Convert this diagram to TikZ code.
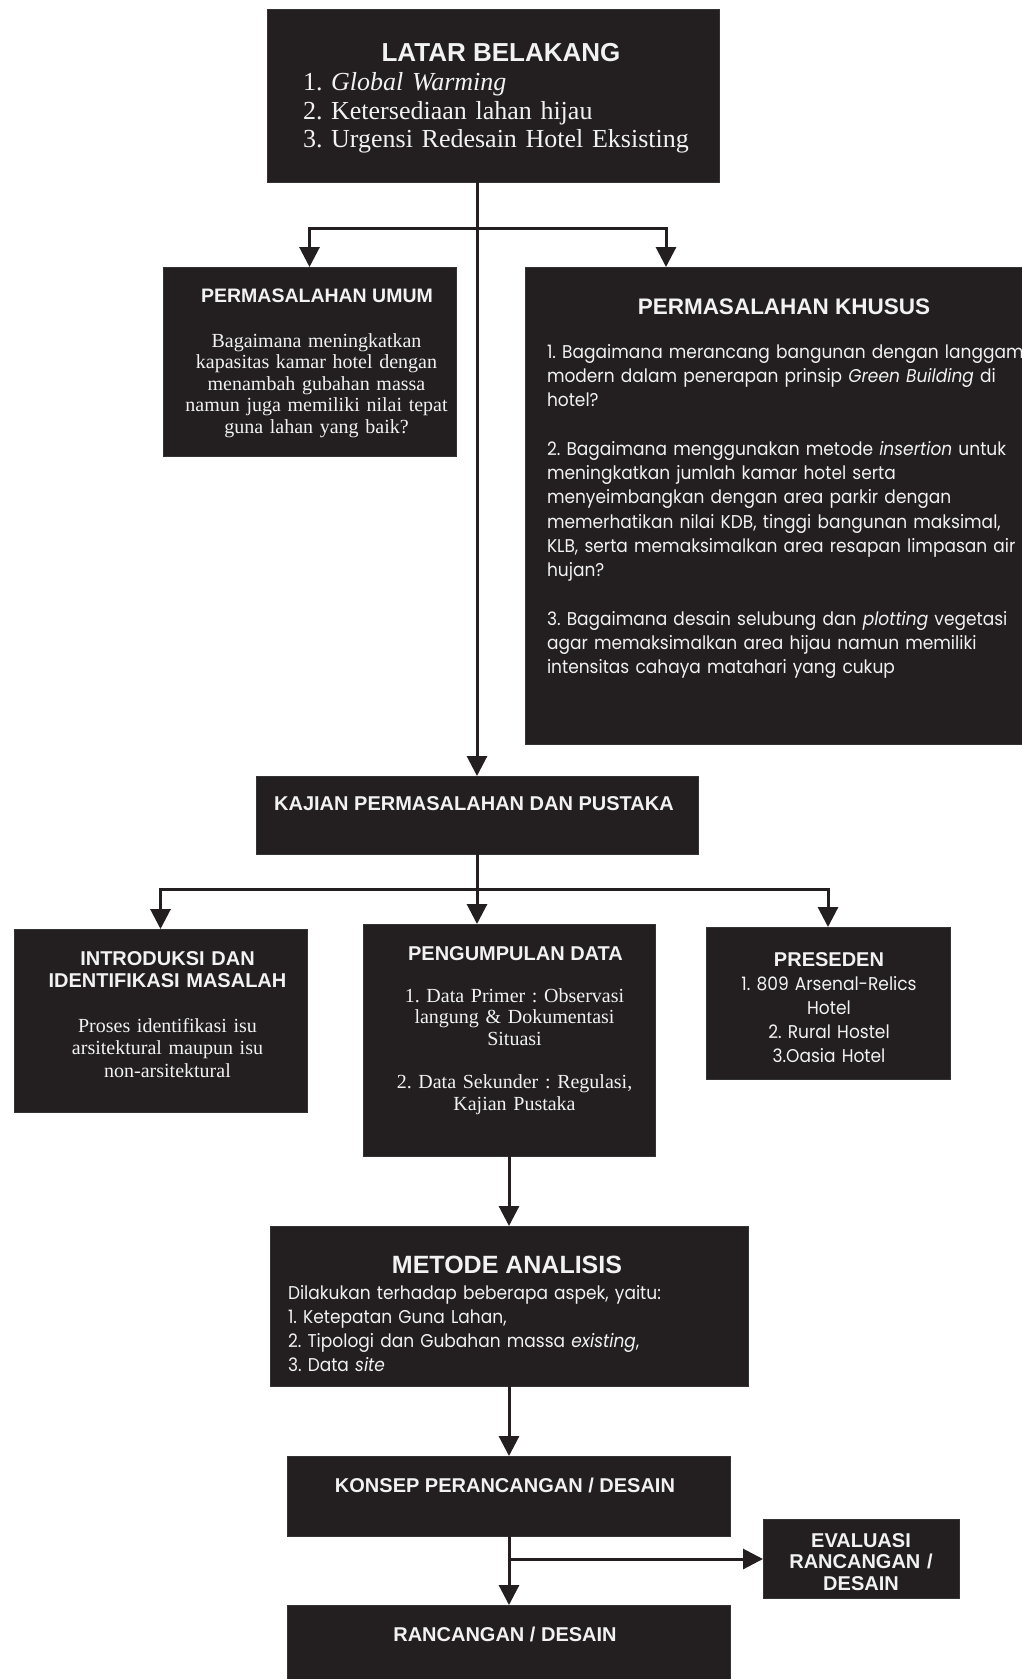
\documentclass[tikz,border=0pt]{standalone}
\usepackage{fontspec}
\setmainfont{Liberation Serif}
\newfontfamily\hdfont{Liberation Sans}
\newfontfamily\geofont[FakeStretch=0.92]{Poppins}
\usetikzlibrary{arrows.meta}
\definecolor{boxfill}{RGB}{35,31,32}
\definecolor{txt}{RGB}{242,242,242}
\frenchspacing
\tikzset{
  box/.style={rectangle, fill=boxfill, draw=black!80, line width=1pt, inner sep=0pt, outer sep=0pt},
  conn/.style={draw=boxfill, line width=3pt},
  arr/.style={conn, -{Triangle[width=20pt,length=20pt]}},
  wt/.style={text=txt, inner sep=0pt, outer sep=0pt},
  sanshd/.style={wt, font=\hdfont\bfseries\fontsize{20}{22}\selectfont},
  serifbody/.style={wt, font=\frenchspacing\fontsize{20}{21.5}\selectfont},
  geobody/.style={wt, font=\frenchspacing\geofont\fontsize{18.5}{24.3}\selectfont},
}
\begin{document}
\begin{tikzpicture}[x=1pt,y=-1pt]
\useasboundingbox (0,0) rectangle (1022,1679);
\clip (0,0) rectangle (1022,1679);
\fill[white] (0,0) rectangle (1022,1679);

% boxes
\node[box, minimum width=452pt, minimum height=173pt] (latar) at (493,95.5) {};
\node[box, minimum width=293pt, minimum height=189pt] (umum) at (309.5,361.5) {};
\node[box, minimum width=518pt, minimum height=477pt] (khusus) at (784,505.5) {};
\node[box, minimum width=442pt, minimum height=78pt] (kajian) at (477,815) {};
\node[box, minimum width=293pt, minimum height=183pt] (intro) at (160.5,1020.5) {};
\node[box, minimum width=292pt, minimum height=232pt] (pengumpulan) at (509,1040) {};
\node[box, minimum width=244pt, minimum height=152pt] (preseden) at (828,1003) {};
\node[box, minimum width=478pt, minimum height=160pt] (metode) at (509,1306) {};
\node[box, minimum width=443pt, minimum height=80pt] (konsep) at (509,1496) {};
\node[box, minimum width=196pt, minimum height=79pt] (evaluasi) at (861,1559) {};
\node[box, minimum width=443pt, minimum height=80pt] (rancangan) at (509,1645) {};

% connectors
\coordinate (j1) at (477,228);
\coordinate (kin) at ([xshift=141pt]khusus.north west);
\draw[arr] (latar.south -| kajian.north) -- (kajian.north);
\draw[arr, line join=miter] (j1) -| (umum.north);
\draw[arr, line join=miter] (j1) -| (kin);
\coordinate (j2) at (477,889);
\draw[conn] (kajian.south) -- (j2);
\draw[arr, line join=miter] (j2) -| (intro.north);
\draw[arr, line join=miter] (j2) -| (preseden.north);
\draw[arr] (j2) -- (j2 |- pengumpulan.north);
\draw[arr] (pengumpulan.south) -- (metode.north);
\draw[arr] (metode.south) -- (konsep.north);
\draw[arr] (konsep.south) -- (rancangan.north);
\draw[arr] (konsep.south |- evaluasi.west) -- (evaluasi.west);

% texts
\node[sanshd, font=\hdfont\bfseries\fontsize{26}{28}\selectfont, anchor=base] (latarT) at (501,61.5) {LATAR BELAKANG};
\node[wt, font=\frenchspacing\fontsize{26}{28.6}\selectfont, anchor=base west, text width=420pt, align=left] (latarL) at (303,90.7)
  {1. \textit{Global Warming}\\2. Ketersediaan lahan hijau\\3. Urgensi Redesain Hotel Eksisting};

\node[sanshd, font=\hdfont\bfseries\fontsize{19.5}{22}\selectfont, anchor=base] (umumT) at (317,302) {PERMASALAHAN UMUM};
\node[serifbody, anchor=base, text width=290pt, align=center] (umumB) at (316.5,347)
  {Bagaimana meningkatkan\\kapasitas kamar hotel dengan\\menambah gubahan massa\\namun juga memiliki nilai tepat\\guna lahan yang baik?};

\node[sanshd, font=\hdfont\bfseries\fontsize{22.5}{24}\selectfont, anchor=base] (khususT) at (784,314) {PERMASALAHAN KHUSUS};
\node[geobody, anchor=base west, text width=620pt, align=left] (khususB) at (547,358)
  {1. Bagaimana merancang bangunan dengan langgam\\modern dalam penerapan prinsip \textit{Green Building} di\\hotel?\\[24.3pt]2. Bagaimana menggunakan metode \textit{insertion} untuk\\meningkatkan jumlah kamar hotel serta\\menyeimbangkan dengan area parkir dengan\\memerhatikan nilai KDB, tinggi bangunan maksimal,\\KLB, serta memaksimalkan area resapan limpasan air\\hujan?\\[24.3pt]3. Bagaimana desain selubung dan \textit{plotting} vegetasi\\agar memaksimalkan area hijau namun memiliki\\intensitas cahaya matahari yang cukup};

\node[sanshd, anchor=base] (kajianT) at (474,810) {KAJIAN PERMASALAHAN DAN PUSTAKA};

\node[sanshd, anchor=base, text width=290pt, align=center] (introT) at (167.5,965) {INTRODUKSI DAN\\IDENTIFIKASI MASALAH};
\node[serifbody, font=\frenchspacing\fontsize{20}{22.5}\selectfont, anchor=base, text width=290pt, align=center] (introB) at (167.5,1032)
  {Proses identifikasi isu\\arsitektural maupun isu\\non-arsitektural};

\node[sanshd, anchor=base] (pengT) at (515.5,960) {PENGUMPULAN DATA};
\node[serifbody, anchor=base, text width=290pt, align=center] (pengB) at (514.5,1002)
  {1. Data Primer : Observasi\\langung \& Dokumentasi\\Situasi\\[22pt]2. Data Sekunder : Regulasi,\\Kajian Pustaka};

\node[sanshd, anchor=base] (presT) at (829,966) {PRESEDEN};
\node[geobody, font=\frenchspacing\geofont\fontsize{18.5}{24}\selectfont, anchor=base, text width=240pt, align=center] (presB) at (829,990)
  {1. 809 Arsenal-Relics\\Hotel\\2. Rural Hostel\\3.Oasia Hotel};

\node[sanshd, font=\hdfont\bfseries\fontsize{25}{27}\selectfont, anchor=base] (metT) at (507,1273) {METODE ANALISIS};
\node[geobody, font=\frenchspacing\geofont\fontsize{18.5}{24}\selectfont, anchor=base west, text width=460pt, align=left] (metB) at (288,1299)
  {Dilakukan terhadap beberapa aspek, yaitu:\\1. Ketepatan Guna Lahan,\\2. Tipologi dan Gubahan massa \textit{existing},\\3. Data \textit{site}};

\node[sanshd, anchor=base] (konT) at (505,1492) {KONSEP PERANCANGAN / DESAIN};
\node[sanshd, font=\hdfont\bfseries\fontsize{20}{21.5}\selectfont, anchor=base, text width=190pt, align=center] (evaT) at (861,1547)
  {EVALUASI\\RANCANGAN /\\DESAIN};
\node[sanshd, anchor=base] (ranT) at (505,1641) {RANCANGAN / DESAIN};
\end{tikzpicture}
\end{document}
